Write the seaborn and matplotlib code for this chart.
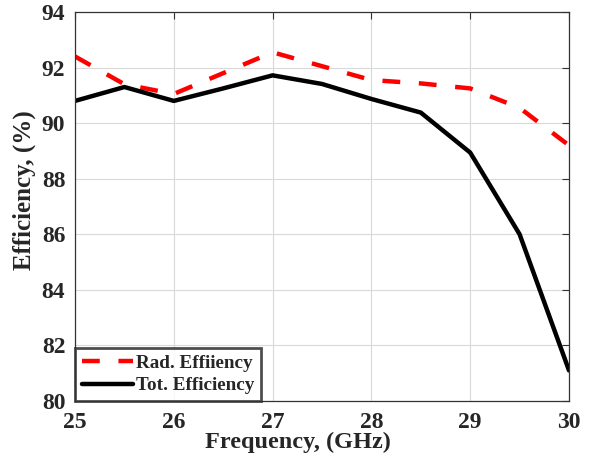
import numpy as np
import pandas as pd
import matplotlib
matplotlib.use("Agg")
import matplotlib.pyplot as plt
import matplotlib.colors as mcolors
import seaborn as sns

freq = [25, 25.5, 26, 26.5, 27, 27.5, 28, 28.5, 29, 29.5, 30]
rad_eff = [92.4, 91.4, 91.05, 91.8, 92.55, 92.05, 91.55, 91.43, 91.25, 90.55, 89.2]
tot_eff = [90.8, 91.3, 90.8, 91.25, 91.72, 91.41, 90.87, 90.38, 88.94, 86.0, 81.1]
labels = ["Rad. Effiiency", "Tot. Efficiency"]
xticks = [25, 26, 27, 28, 29, 30]
yticks = [80, 82, 84, 86, 88, 90, 92, 94]

sns.set_style("white")
plt.rcParams['font.family'] = ['Liberation Serif', 'DejaVu Serif']
plt.rcParams['font.weight'] = 'bold'

fig = plt.figure(figsize=(5.93, 4.58), dpi=100)
ax = fig.add_axes([75/593, 1 - 401/458, (569-75)/593, (401-12)/458])

df = pd.DataFrame({
    "f": freq + freq,
    "eff": rad_eff + tot_eff,
    "series": [labels[0]] * len(freq) + [labels[1]] * len(freq),
})
sns.lineplot(data=df, x="f", y="eff", hue="series", style="series",
             palette={labels[0]: "#ff0000", labels[1]: "black"},
             dashes={labels[0]: (4.0, 4.2), labels[1]: ""},
             lw=3.2, ax=ax, errorbar=None)

ax.set_xlim(25, 30)
ax.set_ylim(80, 94)
ax.set_xticks(xticks)
ax.set_yticks(yticks)
ax.grid(True, color="#d9d9d9", lw=0.8)
ax.tick_params(direction="in", top=True, right=True, length=5, width=0.8,
               labelsize=17, color="#333333")
ax.tick_params(axis="x", pad=8)
ax.tick_params(axis="y", pad=7)
for lab in ax.get_xticklabels() + ax.get_yticklabels():
    lab.set_fontweight("bold")
    lab.set_color("#262626")
for s in ax.spines.values():
    s.set_color("#333333")
    s.set_linewidth(0.9)

ax.set_xlabel("Frequency, (GHz)", fontsize=17.5, fontweight="bold", color="#262626")
ax.set_ylabel("Efficiency, (%)", fontsize=18, fontweight="bold", color="#262626")
ax.xaxis.set_label_coords(0.452, -0.08)
ax.yaxis.set_label_coords(-0.078, 0.542)

leg = ax.legend(loc="lower left", fontsize=13.8, frameon=True, fancybox=False,
                borderaxespad=0, handlelength=2.7, borderpad=0.35, labelspacing=0.25,
                handletextpad=0.15, title=None)
leg.get_frame().set_edgecolor("#222222")
leg.get_frame().set_linewidth(2.0)
for t in leg.get_texts():
    t.set_fontweight("bold")

# make sure the radiation-efficiency line keeps its dash pattern
for ln in ax.lines:
    if mcolors.to_hex(ln.get_color()) == "#ff0000":
        ln.set_dashes([4.0, 4.2])
        ln.set_dash_capstyle("butt")
for ln in leg.get_lines():
    ln.set_linewidth(3.2)

fig.savefig("out.png", dpi=100)
